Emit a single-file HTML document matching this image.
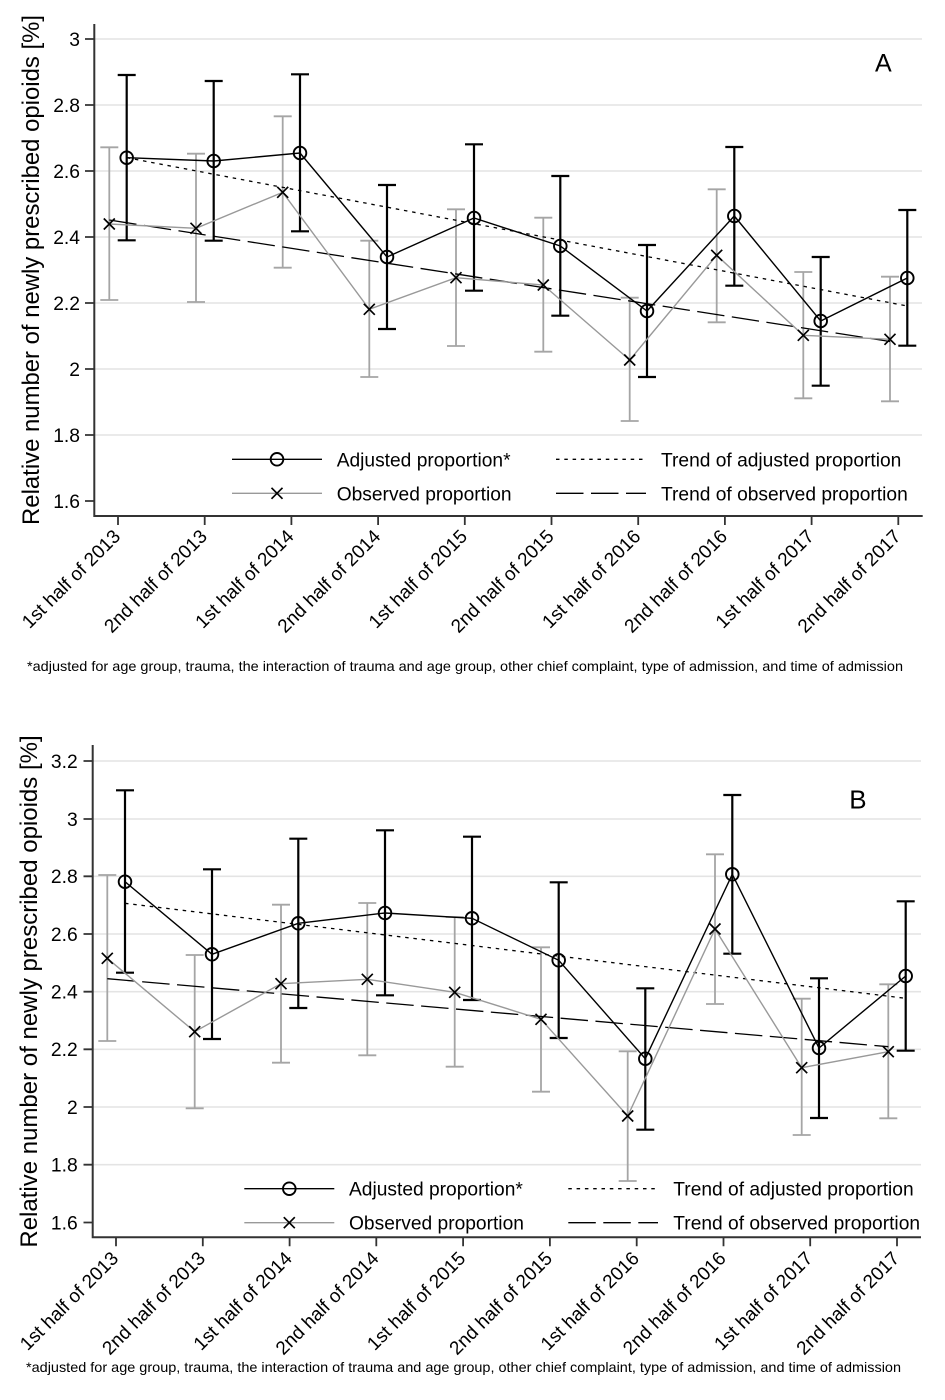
<!DOCTYPE html>
<html><head><meta charset="utf-8"><style>
html,body{margin:0;padding:0;background:#fff;}
svg{display:block;font-family:"Liberation Sans",Arial,sans-serif;}
</style></head><body>
<svg width="945" height="1400" viewBox="0 0 945 1400" xmlns="http://www.w3.org/2000/svg">
<rect width="945" height="1400" fill="#fff"/>

<!-- ================= PANEL A ================= -->
<g stroke="#e4e4e4" stroke-width="1.6">
<path d="M95 39H922M95 105H922M95 171H922M95 237H922M95 303H922M95 369H922M95 435H922"/>
</g>
<!-- grey bars A -->
<path fill="none" stroke="#a5a5a5" stroke-width="1.8" d="M109.3 147.3V300M100.3 147.3h18M100.3 300h18M196 153.7V302M187 153.7h18M187 302h18M282.7 116.3V267.7M273.7 116.3h18M273.7 267.7h18M369.3 240.7V377M360.3 240.7h18M360.3 377h18M456 209.3V346M447 209.3h18M447 346h18M543.3 217.7V351.7M534.3 217.7h18M534.3 351.7h18M629.7 297.7V421M620.7 297.7h18M620.7 421h18M716.7 189.3V322.3M707.7 189.3h18M707.7 322.3h18M803.3 272V398.3M794.3 272h18M794.3 398.3h18M890 276.7V401.3M881 276.7h18M881 401.3h18"/>
<!-- black bars A -->
<path fill="none" stroke="#000" stroke-width="2.2" d="M126.7 75V240.3M117.7 75h18M117.7 240.3h18M213.7 81V240.7M204.7 81h18M204.7 240.7h18M300 74.3V231.3M291 74.3h18M291 231.3h18M387 185V329M378 185h18M378 329h18M474 144.3V290.7M465 144.3h18M465 290.7h18M560.3 176V315.7M551.3 176h18M551.3 315.7h18M647 245V377M638 245h18M638 377h18M734.3 147V285.7M725.3 147h18M725.3 285.7h18M820.7 257V385.7M811.7 257h18M811.7 385.7h18M907.3 210V345.7M898.3 210h18M898.3 345.7h18"/>
<!-- trends A -->
<line x1="126.7" y1="157.7" x2="907.3" y2="306" stroke="#000" stroke-width="1.3" stroke-dasharray="3.5 4.8"/>
<line x1="109.3" y1="220" x2="890" y2="341.5" stroke="#000" stroke-width="1.3" stroke-dasharray="27.5 7.5"/>
<!-- series lines A -->
<polyline fill="none" stroke="#999" stroke-width="1.4" points="109.3,224 196,228.3 282.7,192.3 369.3,309.3 456,277.7 543.3,285 629.7,360 716.7,255.3 803.3,335.3 890,339.3"/>
<polyline fill="none" stroke="#000" stroke-width="1.4" points="126.7,157.7 213.7,161 300,153 387,257 474,218 560.3,246 647,311 734.3,216 820.7,321 907.3,278"/>
<g fill="none" stroke="#000" stroke-width="1.9">
<circle cx="126.7" cy="157.7" r="6.3"/><circle cx="213.7" cy="161" r="6.3"/><circle cx="300" cy="153" r="6.3"/><circle cx="387" cy="257" r="6.3"/><circle cx="474" cy="218" r="6.3"/><circle cx="560.3" cy="246" r="6.3"/><circle cx="647" cy="311" r="6.3"/><circle cx="734.3" cy="216" r="6.3"/><circle cx="820.7" cy="321" r="6.3"/><circle cx="907.3" cy="278" r="6.3"/>
</g>
<path fill="none" stroke="#000" stroke-width="1.7" d="M103.8 218.5l11 11M103.8 229.5l11 -11M190.5 222.8l11 11M190.5 233.8l11 -11M277.2 186.8l11 11M277.2 197.8l11 -11M363.8 303.8l11 11M363.8 314.8l11 -11M450.5 272.2l11 11M450.5 283.2l11 -11M537.8 279.5l11 11M537.8 290.5l11 -11M624.2 354.5l11 11M624.2 365.5l11 -11M711.2 249.8l11 11M711.2 260.8l11 -11M797.8 329.8l11 11M797.8 340.8l11 -11M884.5 333.8l11 11M884.5 344.8l11 -11"/>
<!-- axes A -->
<path fill="none" stroke="#333" stroke-width="2" d="M94.3 24V516M93.3 516H922.7"/>
<path fill="none" stroke="#333" stroke-width="1.8" d="M85 39h9M85 105h9M85 171h9M85 237h9M85 303h9M85 369h9M85 435h9M85 501h9M118 516v9M204.7 516v9M291.4 516v9M378.1 516v9M464.8 516v9M551.5 516v9M638.2 516v9M724.9 516v9M811.6 516v9M898.3 516v9"/>
<g font-size="19.3" text-anchor="end" fill="#000">
<text x="80" y="45.8">3</text><text x="80" y="111.8">2.8</text><text x="80" y="177.8">2.6</text><text x="80" y="243.8">2.4</text><text x="80" y="309.8">2.2</text><text x="80" y="375.8">2</text><text x="80" y="441.8">1.8</text><text x="80" y="507.8">1.6</text>
</g>
<g font-size="19" text-anchor="end" fill="#000">
<text transform="translate(121.5,537.5) rotate(-45)">1st half of 2013</text>
<text transform="translate(208.2,537.5) rotate(-45)">2nd half of 2013</text>
<text transform="translate(294.9,537.5) rotate(-45)">1st half of 2014</text>
<text transform="translate(381.6,537.5) rotate(-45)">2nd half of 2014</text>
<text transform="translate(468.3,537.5) rotate(-45)">1st half of 2015</text>
<text transform="translate(555,537.5) rotate(-45)">2nd half of 2015</text>
<text transform="translate(641.7,537.5) rotate(-45)">1st half of 2016</text>
<text transform="translate(728.4,537.5) rotate(-45)">2nd half of 2016</text>
<text transform="translate(815.1,537.5) rotate(-45)">1st half of 2017</text>
<text transform="translate(901.8,537.5) rotate(-45)">2nd half of 2017</text>
</g>
<text transform="translate(39,270) rotate(-90)" font-size="23.9" text-anchor="middle" fill="#000">Relative number of newly prescribed opioids [%]</text>
<text x="875" y="71.7" font-size="25" fill="#000">A</text>
<!-- legend A -->
<line x1="232" y1="459.3" x2="322" y2="459.3" stroke="#000" stroke-width="1.4"/>
<circle cx="277" cy="459.3" r="6.3" fill="none" stroke="#000" stroke-width="1.9"/>
<line x1="232" y1="493.3" x2="322" y2="493.3" stroke="#999" stroke-width="1.4"/>
<path fill="none" stroke="#000" stroke-width="1.7" d="M271.5 487.8l11 11M271.5 498.8l11 -11"/>
<line x1="556" y1="459.3" x2="645" y2="459.3" stroke="#000" stroke-width="1.3" stroke-dasharray="3.5 4.8"/>
<line x1="556" y1="493.3" x2="646" y2="493.3" stroke="#000" stroke-width="1.3" stroke-dasharray="27.5 7.5"/>
<g font-size="19.2" fill="#000">
<text x="336.7" y="466.3">Adjusted proportion*</text>
<text x="336.7" y="500.3">Observed proportion</text>
<text x="661" y="466.3">Trend of adjusted proportion</text>
<text x="661" y="500.3">Trend of observed proportion</text>
</g>
<text x="27" y="671" font-size="13.6" fill="#000" textLength="876" lengthAdjust="spacingAndGlyphs">*adjusted for age group, trauma, the interaction of trauma and age group, other chief complaint, type of admission, and time of admission</text>

<!-- ================= PANEL B ================= -->
<g stroke="#e4e4e4" stroke-width="1.6">
<path d="M93 761H921M93 819H921M93 876.3H921M93 934H921M93 991.7H921M93 1049.3H921M93 1107H921M93 1164.7H921"/>
</g>
<path fill="none" stroke="#a5a5a5" stroke-width="1.8" d="M107.3 875V1041M98.3 875h18M98.3 1041h18M194.7 955V1108.3M185.7 955h18M185.7 1108.3h18M281 904.7V1062.7M272 904.7h18M272 1062.7h18M367.3 903V1055.3M358.3 903h18M358.3 1055.3h18M454.7 917V1066.7M445.7 917h18M445.7 1066.7h18M541 947.3V1091.7M532 947.3h18M532 1091.7h18M627.7 1051.3V1181M618.7 1051.3h18M618.7 1181h18M715 854.3V1004M706 854.3h18M706 1004h18M801.7 998.7V1135M792.7 998.7h18M792.7 1135h18M888.3 984.3V1118.3M879.3 984.3h18M879.3 1118.3h18"/>
<path fill="none" stroke="#000" stroke-width="2.2" d="M125 790.3V972.7M116 790.3h18M116 972.7h18M212 869.3V1039M203 869.3h18M203 1039h18M298.3 838.7V1008M289.3 838.7h18M289.3 1008h18M385 830.3V995.3M376 830.3h18M376 995.3h18M472 836.7V1000M463 836.7h18M463 1000h18M558.7 882.3V1038M549.7 882.3h18M549.7 1038h18M645.3 988.3V1129.7M636.3 988.3h18M636.3 1129.7h18M732.3 795V953.7M723.3 795h18M723.3 953.7h18M819 978.3V1118M810 978.3h18M810 1118h18M905.7 901.3V1050.7M896.7 901.3h18M896.7 1050.7h18"/>
<line x1="125" y1="903.3" x2="905.7" y2="998.3" stroke="#000" stroke-width="1.3" stroke-dasharray="3.5 4.8"/>
<line x1="107.3" y1="978.7" x2="888.3" y2="1046.7" stroke="#000" stroke-width="1.3" stroke-dasharray="27.5 7.5"/>
<polyline fill="none" stroke="#999" stroke-width="1.4" points="107.3,958.3 194.7,1031.7 281,983.7 367.3,979.3 454.7,992.3 541,1019.3 627.7,1116 715,929 801.7,1067.7 888.3,1051.7"/>
<polyline fill="none" stroke="#000" stroke-width="1.4" points="125,881.7 212,954.3 298.3,923.3 385,913 472,918.3 558.7,960.3 645.3,1058.7 732.3,874.3 819,1048 905.7,976"/>
<g fill="none" stroke="#000" stroke-width="1.9">
<circle cx="125" cy="881.7" r="6.3"/><circle cx="212" cy="954.3" r="6.3"/><circle cx="298.3" cy="923.3" r="6.3"/><circle cx="385" cy="913" r="6.3"/><circle cx="472" cy="918.3" r="6.3"/><circle cx="558.7" cy="960.3" r="6.3"/><circle cx="645.3" cy="1058.7" r="6.3"/><circle cx="732.3" cy="874.3" r="6.3"/><circle cx="819" cy="1048" r="6.3"/><circle cx="905.7" cy="976" r="6.3"/>
</g>
<path fill="none" stroke="#000" stroke-width="1.7" d="M101.8 952.8l11 11M101.8 963.8l11 -11M189.2 1026.2l11 11M189.2 1037.2l11 -11M275.5 978.2l11 11M275.5 989.2l11 -11M361.8 973.8l11 11M361.8 984.8l11 -11M449.2 986.8l11 11M449.2 997.8l11 -11M535.5 1013.8l11 11M535.5 1024.8l11 -11M622.2 1110.5l11 11M622.2 1121.5l11 -11M709.5 923.5l11 11M709.5 934.5l11 -11M796.2 1062.2l11 11M796.2 1073.2l11 -11M882.8 1046.2l11 11M882.8 1057.2l11 -11"/>
<path fill="none" stroke="#333" stroke-width="2" d="M92.7 745V1237.3M91.7 1237.3H921"/>
<path fill="none" stroke="#333" stroke-width="1.8" d="M83.5 761h9M83.5 819h9M83.5 876.3h9M83.5 934h9M83.5 991.7h9M83.5 1049.3h9M83.5 1107h9M83.5 1164.7h9M83.5 1222.5h9M116 1237.3v9M202.8 1237.3v9M289.6 1237.3v9M376.3 1237.3v9M463.1 1237.3v9M549.9 1237.3v9M636.7 1237.3v9M723.5 1237.3v9M810.2 1237.3v9M897 1237.3v9"/>
<g font-size="19.3" text-anchor="end" fill="#000">
<text x="77.7" y="767.8">3.2</text><text x="77.7" y="825.8">3</text><text x="77.7" y="883.1">2.8</text><text x="77.7" y="940.8">2.6</text><text x="77.7" y="998.5">2.4</text><text x="77.7" y="1056.1">2.2</text><text x="77.7" y="1113.8">2</text><text x="77.7" y="1171.5">1.8</text><text x="77.7" y="1229.3">1.6</text>
</g>
<g font-size="19" text-anchor="end" fill="#000">
<text transform="translate(119.5,1259.5) rotate(-45)">1st half of 2013</text>
<text transform="translate(206.3,1259.5) rotate(-45)">2nd half of 2013</text>
<text transform="translate(293.1,1259.5) rotate(-45)">1st half of 2014</text>
<text transform="translate(379.8,1259.5) rotate(-45)">2nd half of 2014</text>
<text transform="translate(466.6,1259.5) rotate(-45)">1st half of 2015</text>
<text transform="translate(553.4,1259.5) rotate(-45)">2nd half of 2015</text>
<text transform="translate(640.2,1259.5) rotate(-45)">1st half of 2016</text>
<text transform="translate(727,1259.5) rotate(-45)">2nd half of 2016</text>
<text transform="translate(813.7,1259.5) rotate(-45)">1st half of 2017</text>
<text transform="translate(900.5,1259.5) rotate(-45)">2nd half of 2017</text>
</g>
<text transform="translate(37,991.5) rotate(-90)" font-size="24" text-anchor="middle" fill="#000">Relative number of newly prescribed opioids [%]</text>
<text x="849.3" y="808.3" font-size="26" fill="#000">B</text>
<line x1="244.3" y1="1188.7" x2="334.3" y2="1188.7" stroke="#000" stroke-width="1.4"/>
<circle cx="289.3" cy="1188.7" r="6.3" fill="none" stroke="#000" stroke-width="1.9"/>
<line x1="244.3" y1="1222.7" x2="334.3" y2="1222.7" stroke="#999" stroke-width="1.4"/>
<path fill="none" stroke="#000" stroke-width="1.7" d="M283.8 1217.2l11 11M283.8 1228.2l11 -11"/>
<line x1="568.3" y1="1188.7" x2="657" y2="1188.7" stroke="#000" stroke-width="1.3" stroke-dasharray="3.5 4.8"/>
<line x1="568.3" y1="1222.7" x2="658" y2="1222.7" stroke="#000" stroke-width="1.3" stroke-dasharray="27.5 7.5"/>
<g font-size="19.2" fill="#000">
<text x="349" y="1195.7">Adjusted proportion*</text>
<text x="349" y="1229.7">Observed proportion</text>
<text x="673.3" y="1195.7">Trend of adjusted proportion</text>
<text x="673.3" y="1229.7">Trend of observed proportion</text>
</g>
<text x="26" y="1372" font-size="13.6" fill="#000" textLength="875" lengthAdjust="spacingAndGlyphs">*adjusted for age group, trauma, the interaction of trauma and age group, other chief complaint, type of admission, and time of admission</text>
</svg>
</body></html>
